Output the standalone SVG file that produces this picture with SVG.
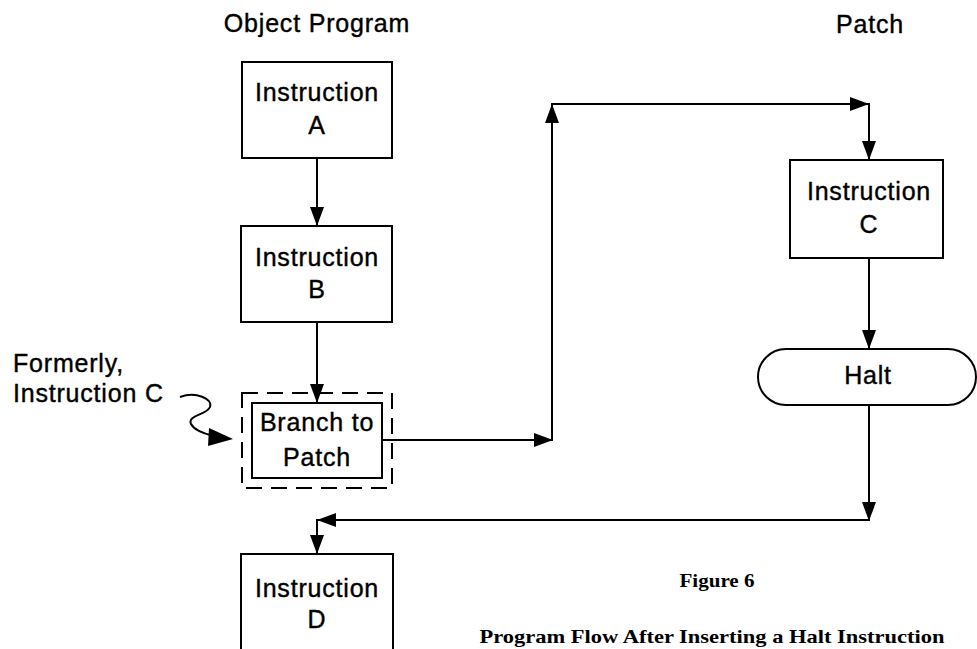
<svg xmlns="http://www.w3.org/2000/svg" width="977" height="649" viewBox="0 0 977 649">
<defs>
<style>
.box{fill:#fff;stroke:#000;stroke-width:2}
.dash{fill:none;stroke:#000;stroke-width:2;stroke-dasharray:16 9}
.t{font-family:"Liberation Sans",Arial,sans-serif;font-size:25px;letter-spacing:0.8px;fill:#000;stroke:#000;stroke-width:0.4;text-anchor:middle}
.tl{font-family:"Liberation Sans",Arial,sans-serif;font-size:25px;letter-spacing:0.8px;fill:#000;stroke:#000;stroke-width:0.4}
.cap{font-family:"Liberation Serif","Times New Roman",serif;font-size:19px;font-weight:bold;fill:#000;text-anchor:middle}
.c{fill:none;stroke:#000;stroke-width:2}
</style>
<marker id="ah" markerUnits="userSpaceOnUse" markerWidth="20" markerHeight="14" refX="19" refY="7" orient="auto">
<path d="M0,0 L19,7 L0,14 z" fill="#000"/>
</marker>
</defs>
<rect width="977" height="649" fill="#fff"/>

<text class="t" x="317" y="32">Object Program</text>
<text class="t" x="870" y="33">Patch</text>

<g id="instrA">
<rect class="box" x="242" y="62" width="150" height="96"/>
<text class="t" x="317" y="101">Instruction</text>
<text class="t" x="317" y="134">A</text>
</g>
<g id="instrB">
<rect class="box" x="241" y="226" width="151" height="96"/>
<text class="t" x="317" y="266">Instruction</text>
<text class="t" x="317" y="298">B</text>
</g>
<g id="branch">
<rect class="dash" x="242" y="393" width="150" height="95"/>
<rect class="box" x="252" y="403" width="130" height="75"/>
<text class="t" x="317" y="431">Branch to</text>
<text class="t" x="317" y="466">Patch</text>
</g>
<g id="instrD">
<rect class="box" x="241" y="554" width="152" height="110"/>
<text class="t" x="317" y="597">Instruction</text>
<text class="t" x="317" y="628">D</text>
</g>
<g id="instrC">
<rect class="box" x="790" y="160" width="153" height="98"/>
<text class="t" x="869" y="200">Instruction</text>
<text class="t" x="869" y="233">C</text>
</g>
<g id="halt">
<rect class="box" x="758" y="349" width="218" height="56" rx="28" ry="28"/>
<text class="t" x="868" y="384">Halt</text>
</g>
<g id="note">
<text class="tl" x="13" y="372">Formerly,</text>
<text class="tl" x="13" y="402">Instruction C</text>
<path class="c" d="M180,397 C196,391 213,399 210,407 C207,415 187,415 191,424 C195,431 205,434 214,436"/>
<path d="M209,428 L233,439 L208,446 z" fill="#000"/>
</g>

<g id="connectors">
<line class="c" x1="317" y1="158" x2="317" y2="226" marker-end="url(#ah)"/>
<line class="c" x1="317" y1="322" x2="317" y2="403" marker-end="url(#ah)"/>
<line class="c" x1="382" y1="440" x2="553" y2="440" marker-end="url(#ah)"/>
<line class="c" x1="552" y1="441" x2="552" y2="104" marker-end="url(#ah)"/>
<line class="c" x1="551" y1="104" x2="869" y2="104" marker-end="url(#ah)"/>
<line class="c" x1="869" y1="103" x2="869" y2="160" marker-end="url(#ah)"/>
<line class="c" x1="869" y1="258" x2="869" y2="349" marker-end="url(#ah)"/>
<line class="c" x1="869" y1="405" x2="869" y2="521" marker-end="url(#ah)"/>
<line class="c" x1="870" y1="520" x2="317" y2="520" marker-end="url(#ah)"/>
<line class="c" x1="317" y1="519" x2="317" y2="554" marker-end="url(#ah)"/>
</g>

<text class="cap" x="717" y="587" textLength="75" lengthAdjust="spacingAndGlyphs">Figure 6</text>
<text class="cap" x="712" y="643" textLength="465" lengthAdjust="spacingAndGlyphs">Program Flow After Inserting a Halt Instruction</text>
</svg>
